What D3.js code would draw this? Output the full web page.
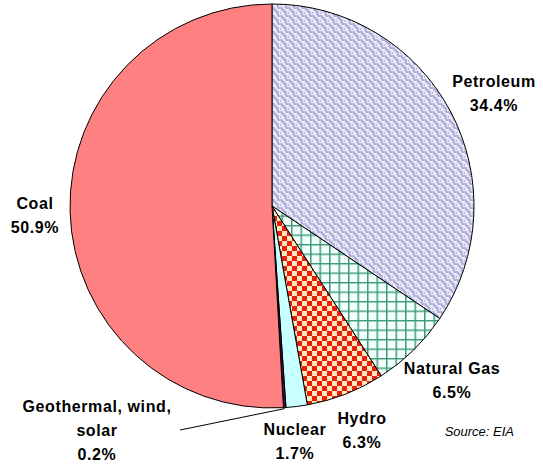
<!DOCTYPE html>
<html>
<head>
<meta charset="utf-8">
<script src="https://cdn.jsdelivr.net/npm/d3@7"></script>
<style>
  body { margin: 0; background: #fff; }
  text { font-family: Arial, "Liberation Sans", sans-serif; }
</style>
</head>
<body>
<div id="chart"></div>
<script>
var sources = ["Petroleum", "Natural Gas", "Hydro", "Nuclear", "Geothermal, wind, solar", "Coal"];
var shares = [34.4, 6.5, 6.3, 1.7, 0.2, 50.9];

var width = 543, height = 470;
var cx = 272, cy = 206, radius = 202;

var svg = d3.select("#chart").append("svg")
  .attr("width", width)
  .attr("height", height);

var defs = svg.append("defs");

// petroleum: lavender weave
var pp = defs.append("pattern").attr("id", "pat-pet")
  .attr("patternUnits", "userSpaceOnUse").attr("width", 8).attr("height", 8);
pp.append("rect").attr("width", 8).attr("height", 8).attr("fill", "#ebebf8");
pp.append("path")
  .attr("d", "M0,2 h2 v2 h2 v2 h2 v2 M4,0 h2 v2 h2 M0,6 h0 v2")
  .attr("fill", "none").attr("stroke", "#a4a4d6").attr("stroke-width", 1.5);

// natural gas: green grid
var pg = defs.append("pattern").attr("id", "pat-gas")
  .attr("patternUnits", "userSpaceOnUse").attr("width", 9.5).attr("height", 9.5);
pg.append("rect").attr("width", 9.5).attr("height", 9.5).attr("fill", "#f2fffd");
pg.append("path").attr("d", "M0,0.75 H9.5 M0.75,0 V9.5")
  .attr("stroke", "#3f9a7a").attr("stroke-width", 1.5);

// hydro: red checker
var ph = defs.append("pattern").attr("id", "pat-hyd")
  .attr("patternUnits", "userSpaceOnUse").attr("width", 10).attr("height", 10);
ph.append("rect").attr("width", 10).attr("height", 10).attr("fill", "#fde8c0");
ph.append("rect").attr("width", 5).attr("height", 5).attr("fill", "#e8200c");
ph.append("rect").attr("x", 5).attr("y", 5).attr("width", 5).attr("height", 5).attr("fill", "#e8200c");

var fills = d3.scaleOrdinal()
  .domain(sources)
  .range(["url(#pat-pet)", "url(#pat-gas)", "url(#pat-hyd)", "#c8ffff", "#4a0a50", "#ff8080"]);

var pie = d3.pie().sort(null).value(function(d) { return d; });
var arc = d3.arc().innerRadius(0).outerRadius(radius);

var arcs = pie(shares);

var g = svg.append("g").attr("transform", "translate(" + cx + "," + cy + ")");

g.selectAll("path.slice")
  .data(arcs)
  .enter().append("path")
  .attr("class", "slice")
  .attr("d", arc)
  .attr("fill", function(d, i) { return fills(sources[i]); })
  .attr("stroke", "#000")
  .attr("stroke-width", 1);

// label layout (position of each label block)
var labelLines = [
  ["Petroleum", "34.4%"],
  ["Natural Gas", "6.5%"],
  ["Hydro", "6.3%"],
  ["Nuclear", "1.7%"],
  ["Geothermal, wind,", "solar", "0.2%"],
  ["Coal", "50.9%"]
];
var labelPos = [[494, 87], [452, 374], [362, 424], [295, 435], [97, 412], [35, 209]];

svg.selectAll("g.label")
  .data(labelLines)
  .enter().append("g")
  .attr("class", "label")
  .attr("transform", function(d, i) { return "translate(" + labelPos[i][0] + "," + labelPos[i][1] + ")"; })
  .each(function(lines) {
    var t = d3.select(this).append("text")
      .attr("text-anchor", "middle")
      .attr("font-size", "16px")
      .attr("font-weight", "bold")
      .attr("letter-spacing", "0.6px")
      .attr("fill", "#000");
    lines.forEach(function(l, j) {
      t.append("tspan").attr("x", 0).attr("dy", j === 0 ? 0 : 24).text(l);
    });
  });

// leader line for the small slice
var geo = arcs[4];
var mid = (geo.startAngle + geo.endAngle) / 2;
svg.append("path")
  .attr("d", "M180,430 L" + (cx + Math.sin(mid) * (radius + 1)) + "," + (cy - Math.cos(mid) * (radius + 1)))
  .attr("stroke", "#000").attr("stroke-width", 1).attr("fill", "none");

svg.append("text")
  .attr("x", 514).attr("y", 436)
  .attr("text-anchor", "end")
  .attr("font-size", "13px")
  .attr("font-style", "italic")
  .attr("fill", "#000")
  .text("Source: EIA");
</script>
</body>
</html>
